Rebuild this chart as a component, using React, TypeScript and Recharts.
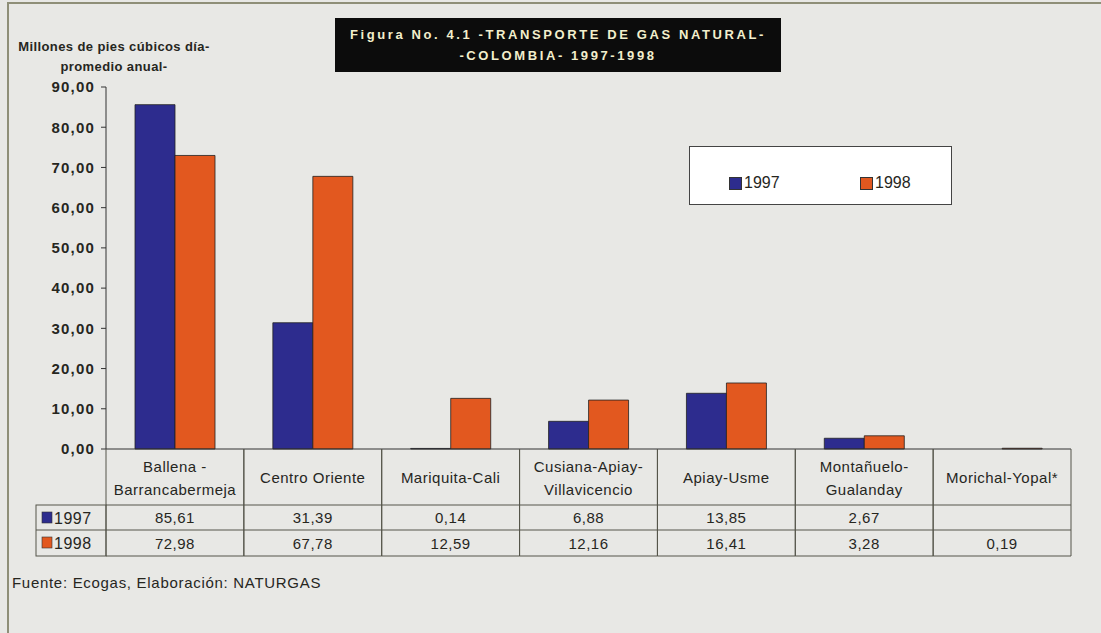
import React from 'react';
import { BarChart, Bar, XAxis, YAxis } from 'recharts';

const categories = [
  'Ballena -\nBarrancabermeja',
  'Centro Oriente',
  'Mariquita-Cali',
  'Cusiana-Apiay-\nVillavicencio',
  'Apiay-Usme',
  'Montañuelo-\nGualanday',
  'Morichal-Yopal*',
];
const values1997: (number | null)[] = [85.61, 31.39, 0.14, 6.88, 13.85, 2.67, null];
const values1998: (number | null)[] = [72.98, 67.78, 12.59, 12.16, 16.41, 3.28, 0.19];
const yTicks = [0, 10, 20, 30, 40, 50, 60, 70, 80, 90];
const seriesNames = ['1997', '1998'];

const COLOR_97 = '#2d2c8e';
const COLOR_98 = '#e2581f';
const INK = '#26261e';
const GRID = '#55554a';
const FONT = '"Liberation Sans", Arial, sans-serif';

// layout of the plot / table
const W = 1101;
const H = 633;
const PLOT_LEFT = 106;
const PLOT_RIGHT = 1071;
const PLOT_TOP = 87;
const BASE = 449;
const ROW1 = 505;
const ROW2 = 530;
const ROW3 = 556;
const HEAD_LEFT = 36;
const BAND = (PLOT_RIGHT - PLOT_LEFT) / categories.length;

const fmt = (v: number | null) => (v == null ? '' : v.toFixed(2).replace('.', ','));

const data = categories.map((name, i) => ({
  name,
  y1997: values1997[i],
  y1998: values1998[i],
}));

const TableTick = (props: any) => {
  const { x, payload } = props;
  const i = categories.indexOf(payload.value);
  const half = BAND / 2;
  const lines = String(payload.value).split('\n');
  const txt = { fontFamily: FONT, fontSize: 15, fill: INK, textAnchor: 'middle' as const, letterSpacing: 0.5 };
  const nameY = lines.length === 1 ? [483] : [472, 495];
  return (
    <g>
      <line x1={x - half} y1={BASE} x2={x - half} y2={ROW3} stroke={GRID} strokeWidth={1} />
      <line x1={x + half} y1={BASE} x2={x + half} y2={ROW3} stroke={GRID} strokeWidth={1} />
      <line x1={x - half} y1={ROW1} x2={x + half} y2={ROW1} stroke={GRID} strokeWidth={1} />
      <line x1={x - half} y1={ROW2} x2={x + half} y2={ROW2} stroke={GRID} strokeWidth={1} />
      <line x1={x - half} y1={ROW3} x2={x + half} y2={ROW3} stroke={GRID} strokeWidth={1} />
      {lines.map((l, k) => (
        <text key={k} x={x} y={nameY[k]} {...txt}>{l}</text>
      ))}
      <text x={x} y={523} {...txt}>{fmt(values1997[i])}</text>
      <text x={x} y={549} {...txt}>{fmt(values1998[i])}</text>
      {i === 0 && (
        <g>
          <rect x={HEAD_LEFT} y={ROW1} width={PLOT_LEFT - HEAD_LEFT} height={ROW3 - ROW1} fill="none" stroke={GRID} strokeWidth={1} />
          <line x1={HEAD_LEFT} y1={ROW2} x2={PLOT_LEFT} y2={ROW2} stroke={GRID} strokeWidth={1} />
          <rect x={42} y={512} width={10} height={11} fill={COLOR_97} stroke="#333" strokeWidth={0.6} />
          <text x={54} y={524} fontFamily={FONT} fontSize={16} fill={INK} letterSpacing={0.5}>{seriesNames[0]}</text>
          <rect x={42} y={537} width={10} height={11} fill={COLOR_98} stroke="#333" strokeWidth={0.6} />
          <text x={54} y={549} fontFamily={FONT} fontSize={16} fill={INK} letterSpacing={0.5}>{seriesNames[1]}</text>
        </g>
      )}
    </g>
  );
};

const LegendBox = () => (
  <div
    style={{
      position: 'absolute',
      left: 689,
      top: 146,
      width: 263,
      height: 59,
      background: '#ffffff',
      border: '1px solid #444',
      boxSizing: 'border-box',
      fontFamily: FONT,
      fontSize: 16,
      color: INK,
    }}
  >
    {[COLOR_97, COLOR_98].map((c, k) => (
      <div key={k} style={{ position: 'absolute', left: k === 0 ? 39 : 170, top: 27, display: 'flex', alignItems: 'center' }}>
        <span style={{ display: 'inline-block', width: 11, height: 11, background: c, border: '0.5px solid #333', marginRight: 2 }} />
        <span>{seriesNames[k]}</span>
      </div>
    ))}
  </div>
);

export default function App() {
  return (
    <div
      style={{
        position: 'absolute',
        left: 0,
        top: 0,
        width: W,
        height: H,
        overflow: 'hidden',
        background: '#e8e8e5',
        fontFamily: FONT,
      }}
    >
      <div
        style={{
          position: 'absolute',
          left: 7,
          top: 2,
          width: 1200,
          height: 700,
          border: '2px solid #8f8f78',
        }}
      />
      <div
        style={{
          position: 'absolute',
          left: 335,
          top: 18,
          width: 446,
          height: 54,
          background: '#0c0c0c',
          color: '#f3efcc',
          fontWeight: 700,
          fontSize: 13,
          letterSpacing: 2.6,
          textAlign: 'center',
          lineHeight: '21px',
          paddingTop: 6,
          boxSizing: 'border-box',
        }}
      >
        <div>Figura No. 4.1 -TRANSPORTE DE GAS NATURAL-</div>
        <div>-COLOMBIA- 1997-1998</div>
      </div>
      <div
        style={{
          position: 'absolute',
          left: 10,
          top: 37,
          width: 208,
          textAlign: 'center',
          fontWeight: 700,
          fontSize: 13,
          letterSpacing: 0.4,
          lineHeight: '20px',
          color: INK,
        }}
      >
        <div>Millones de pies cúbicos día-</div>
        <div>promedio anual-</div>
      </div>
      <div style={{ position: 'absolute', left: 0, top: 0 }}>
        <BarChart
          width={W}
          height={H}
          data={data}
          margin={{ top: PLOT_TOP, right: W - PLOT_RIGHT, left: PLOT_LEFT - 66, bottom: H - BASE - 120 }}
          barGap={0}
          barSize={40}
        >
          <YAxis
            width={66}
            domain={[0, 90]}
            ticks={yTicks}
            interval={0}
            tickFormatter={(v: number) => fmt(v)}
            tick={{ fill: INK, fontSize: 15, fontWeight: 700, fontFamily: FONT, letterSpacing: 1.2 }}
            axisLine={{ stroke: '#333', strokeWidth: 1 }}
            tickLine={{ stroke: '#333', strokeWidth: 1 }}
            tickSize={5}
            tickMargin={6}
          />
          <XAxis
            dataKey="name"
            height={120}
            interval={0}
            tick={<TableTick />}
            tickLine={false}
            axisLine={{ stroke: '#333', strokeWidth: 1 }}
          />
          <Bar dataKey="y1997" name="1997" fill={COLOR_97} stroke="#222" strokeWidth={0.8} isAnimationActive={false} />
          <Bar dataKey="y1998" name="1998" fill={COLOR_98} stroke="#222" strokeWidth={0.8} isAnimationActive={false} />
        </BarChart>
      </div>
      <LegendBox />
      <div
        style={{
          position: 'absolute',
          left: 12,
          top: 574,
          fontSize: 15,
          color: INK,
          letterSpacing: 0.7,
        }}
      >
        Fuente: Ecogas, Elaboración: NATURGAS
      </div>
    </div>
  );
}
